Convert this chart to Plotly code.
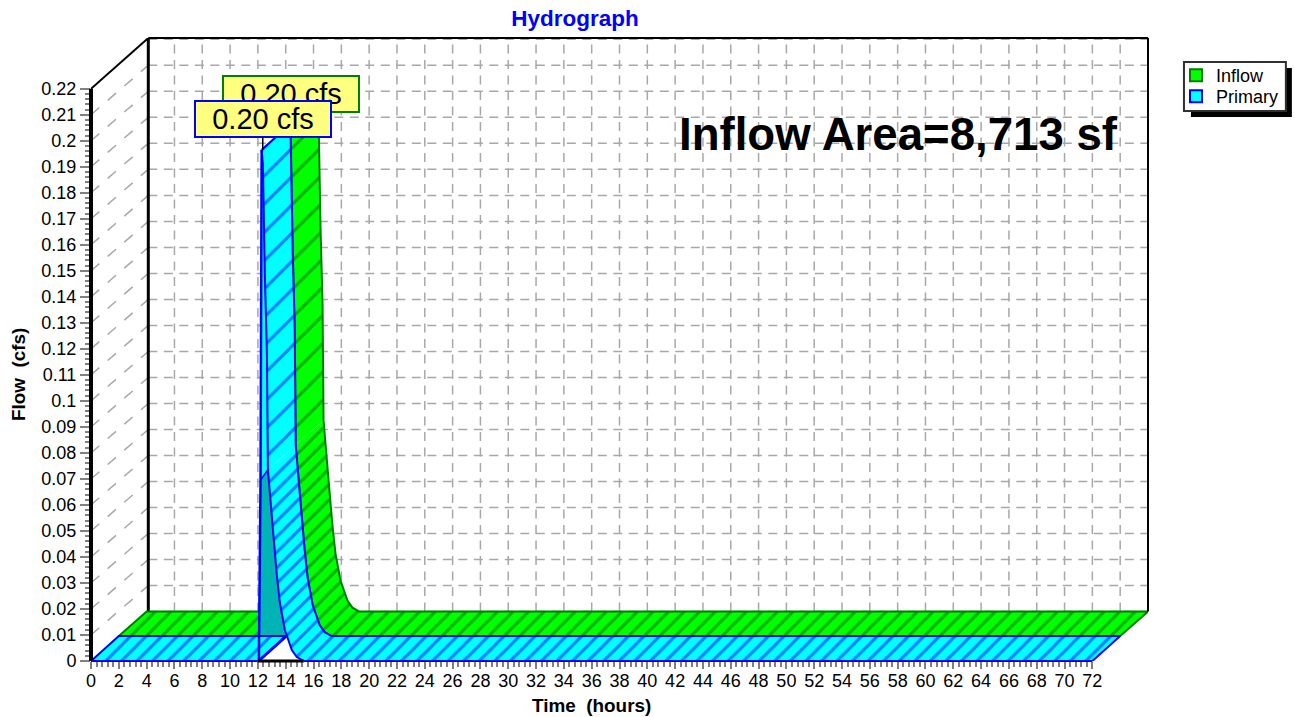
import plotly.graph_objects as go

# ---------- data ----------
x_ticks = list(range(0, 74, 2))
y_ticks = [round(i * 0.01, 2) for i in range(23)]
y_labels = ["0", "0.01", "0.02", "0.03", "0.04", "0.05", "0.06", "0.07", "0.08", "0.09", "0.1",
            "0.11", "0.12", "0.13", "0.14", "0.15", "0.16", "0.17", "0.18", "0.19", "0.2", "0.21", "0.22"]
x_minor = [round(i * 0.4, 1) for i in range(181) if i % 5]
y_minor = [round(i * 0.002, 3) for i in range(111) if i % 5]

rise_time = [0.0, 12.0, 12.07, 12.19, 12.27]
rise_flow = [0.0, 0.0, 0.0, 0.0696, 0.1965]
fall_time_high = [12.27, 12.36, 12.5, 12.65, 12.72]
fall_flow_high = [0.1965, 0.1908, 0.1485, 0.1177, 0.0735]
fall_time_low = [12.72, 12.86, 13.07, 13.36, 13.58, 13.94, 14.44, 14.80, 15.30, 72.0]
fall_flow_low = [0.0735, 0.0638, 0.0512, 0.0331, 0.0223, 0.0119, 0.0042, 0.0015, 0.0, 0.0]
teal_foot_time = [12.07, 14.07]
teal_foot_flow = [0.0, 0.0096]

MID = (2.0, 0.0096)    # depth of the Primary ribbon
BACK = (4.0, 0.0190)   # depth of the Inflow ribbon
WALL_X = 4.12
TOP = 0.2395
X_END = 76.0

GREEN, GREEN_LINE, GREEN_HATCH = "#00FF00", "#008000", "#006400"
CYAN, BLUE = "#00FFFF", "#0000FF"
TEAL = "#00B4B4"
GRID = "#A8A8A8"


def shift(ts, qs, off):
    return [t + off[0] for t in ts], [q + off[1] for q in qs]


def ribbon(ts, qs, near, far):
    a, b = shift(ts, qs, near)
    c, d = shift(ts, qs, far)
    return a + c[::-1] + a[:1], b + d[::-1] + b[:1]


def seg_trace(xs, ys, color, width, dash=None):
    return go.Scatter(x=xs, y=ys, mode="lines", showlegend=False, hoverinfo="skip", cliponaxis=False,
                      line=dict(color=color, width=width, dash=dash))


def fill_trace(xs, ys, bg, fg=None, size=11):
    kw = {}
    if fg:
        kw["fillpattern"] = dict(shape="/", bgcolor=bg, fgcolor=fg, size=size, solidity=3.0 / size)
    return go.Scatter(x=xs, y=ys, mode="lines", fill="toself", fillcolor=bg, showlegend=False, hoverinfo="skip",
                      cliponaxis=False, line=dict(width=0, color=bg), **kw)


fig = go.Figure()

# back wall grid
gx, gy = [], []
for k in range(36):
    t = X_END - 2 * k
    gx += [t, t, None]
    gy += [BACK[1], TOP, None]
for k in range(23):
    q = BACK[1] + 0.01 * k
    gx += [WALL_X, X_END, None]
    gy += [q, q, None]
fig.add_trace(seg_trace(gx, gy, GRID, 1.5, "9px,6.5px"))

# side wall diagonals
dx, dy = [], []
for q in y_ticks[:-1]:
    dx += [0, WALL_X, None]
    dy += [q, q + BACK[1], None]
fig.add_trace(seg_trace(dx, dy, GRID, 1.5, "11px,11px"))

# frame
fig.add_trace(seg_trace([WALL_X, WALL_X], [BACK[1], TOP], "black", 3))
fig.add_trace(seg_trace([0, WALL_X], [0.22, TOP], "black", 2))

low_t, low_q = fall_time_low, fall_flow_low
high_t, high_q = fall_time_high, fall_flow_high
left_t, left_q = rise_time[:2], rise_flow[:2]
all_t, all_q = high_t + low_t[1:], high_q + low_q[1:]

# Inflow ribbon
for ts, qs, size in [(left_t, left_q, 11), (low_t, low_q, 11), (high_t, high_q, 20)]:
    xs, ys = ribbon(ts, qs, MID, BACK)
    fig.add_trace(fill_trace(xs, ys, GREEN, GREEN_HATCH, size))
for ts, qs in [(left_t, left_q), (all_t, all_q)]:
    xs, ys = ribbon(ts, qs, MID, BACK)
    fig.add_trace(seg_trace(xs, ys, GREEN_LINE, 2))

# inner face of the Primary rise
rt, rq = rise_time[3:], rise_flow[3:]
fig.add_trace(fill_trace(rt + high_t + rt[:1], rq + high_q + rq[:1], CYAN))
tt = teal_foot_time + low_t[5::-1] + rise_time[3:4] + teal_foot_time[:1]
tq = teal_foot_flow + low_q[5::-1] + rise_flow[3:4] + teal_foot_flow[:1]
fig.add_trace(fill_trace(tt, tq, TEAL))

# Primary ribbon
for ts, qs, size in [(left_t, left_q, 11), (low_t, low_q, 11), (high_t, high_q, 20)]:
    xs, ys = ribbon(ts, qs, (0, 0), MID)
    fig.add_trace(fill_trace(xs, ys, CYAN, BLUE, size))
for ts, qs in [(left_t, left_q), (all_t, all_q)]:
    xs, ys = ribbon(ts, qs, (0, 0), MID)
    fig.add_trace(seg_trace(xs, ys, BLUE, 2))
fig.add_trace(seg_trace(tt[:2] + [None] + rise_time[2:4] + high_t[:1],
                        tq[:2] + [None] + rise_flow[2:4] + high_q[:1], BLUE, 2.5))
fig.add_trace(seg_trace([rise_time[3], low_t[0]], [rise_flow[3], low_q[0]], BLUE, 1.5))
# leader from the peak to its label
fig.add_trace(seg_trace([12.35, 12.35], [0.1965, 0.205], "black", 1.5))

PW, PH = 1058.0, 623.0
def px(v): return (v - 91) / PW
def py(v): return (661 - v) / PH

# legend entries
for name, c, lc, lg in [("Inflow", GREEN, GREEN_LINE, "legend"), ("Primary", CYAN, BLUE, "legend2")]:
    fig.add_trace(go.Scatter(x=[None], y=[None], mode="markers", name=name, legend=lg,
                             marker=dict(symbol="square", size=12, color=c, line=dict(color=lc, width=2))))


def vline_paper(xp, y0, y1, color, width):
    return dict(type="line", xref="paper", yref="y", x0=xp, x1=xp, y0=y0, y1=y1, layer="above",
                line=dict(color=color, width=width))


def hline_paper(yp, x0, x1, color, width):
    return dict(type="line", xref="x", yref="paper", x0=x0, x1=x1, y0=yp, y1=yp, layer="above",
                line=dict(color=color, width=width))


shapes = [
    dict(type="rect", xref="paper", yref="paper", x0=px(1192), x1=px(1293), y0=py(68), y1=py(117),
         fillcolor="black", line=dict(width=0)),
    dict(type="rect", xref="paper", yref="paper", x0=px(1185), x1=px(1287), y0=py(62), y1=py(111),
         fillcolor="white", line=dict(color="#303030", width=2)),
    # axis and wall edges that sit on the border of the plot area
    vline_paper(0, 0, 0.22, "black", 4),
    vline_paper(1, BACK[1], TOP, "black", 2),
    hline_paper(1, WALL_X, X_END, "black", 2),
    hline_paper(0, rise_time[1], low_t[-2], "black", 3),
    hline_paper(0, rise_time[0], rise_time[1], BLUE, 2),
    hline_paper(0, low_t[-2], low_t[-1], BLUE, 2),
]

FONT = "Liberation Sans, Arial, sans-serif"
center = dict(xanchor="center", yanchor="middle", showarrow=False)
annotations = [
    dict(x=14.37, y=0.2179, xref="x", yref="y", text="0.20 cfs", width=134, height=34,
         bgcolor="#FFFF80", bordercolor=GREEN_LINE, borderwidth=2, borderpad=0, font=dict(size=29, color="black"), **center),
    dict(x=12.35, y=0.2085, xref="x", yref="y", text="0.20 cfs", width=134, height=34,
         bgcolor="#FFFF80", bordercolor=BLUE, borderwidth=2, borderpad=0, font=dict(size=29, color="black"), **center),
    dict(x=px(899), y=py(135), xref="paper", yref="paper", text="<b>Inflow Area=8,713 sf</b>",
         font=dict(size=45.6, color="black"), **center),
    dict(x=px(592), y=py(705), xref="paper", yref="paper", text="<b>Time\u00a0\u00a0(hours)</b>",
         font=dict(size=18.9, color="black"), **center),
    dict(x=px(18), y=py(375), xref="paper", yref="paper", text="<b>Flow\u00a0\u00a0(cfs)</b>",
         textangle=-90, font=dict(size=18.9, color="black"), **center),
]

tick = dict(showgrid=False, zeroline=False, showline=False, ticks="outside", tickwidth=1.5,
            tickcolor="#808080", tickfont=dict(size=18, color="black"))
minor = dict(ticks="outside", ticklen=5, tickwidth=1.5, tickcolor="#808080", showgrid=False)
leg = dict(xanchor="left", yanchor="top", bgcolor="rgba(0,0,0,0)", borderwidth=0,
           font=dict(size=18, color="black"), itemwidth=30)

fig.update_layout(
    width=1294, height=717, autosize=False,
    margin=dict(l=91, r=145, t=38, b=56),
    paper_bgcolor="white", plot_bgcolor="white",
    font=dict(family=FONT),
    title=dict(text="<b>Hydrograph</b>", x=575 / 1294, xanchor="center", y=1 - 18 / 717, yanchor="middle",
               font=dict(size=22.5, color=BLUE, family=FONT)),
    xaxis=dict(range=[0, X_END], tickmode="array", tickvals=x_ticks, ticktext=[str(v) for v in x_ticks],
               tickangle=0, ticklen=7, ticklabelstandoff=-4,
               minor=dict(tickmode="array", tickvals=x_minor, **minor), **tick),
    yaxis=dict(range=[0, TOP], tickmode="array", tickvals=y_ticks, ticktext=y_labels, ticklen=10,
               minor=dict(tickmode="array", tickvals=y_minor, **minor), **tick),
    showlegend=True,
    legend=dict(x=px(1176), y=py(57), **leg),
    legend2=dict(x=px(1176), y=py(78), **leg),
    shapes=shapes, annotations=annotations,
)

fig.write_html("out.html", post_script="document.body.style.margin='0';", config={"displayModeBar": False})
